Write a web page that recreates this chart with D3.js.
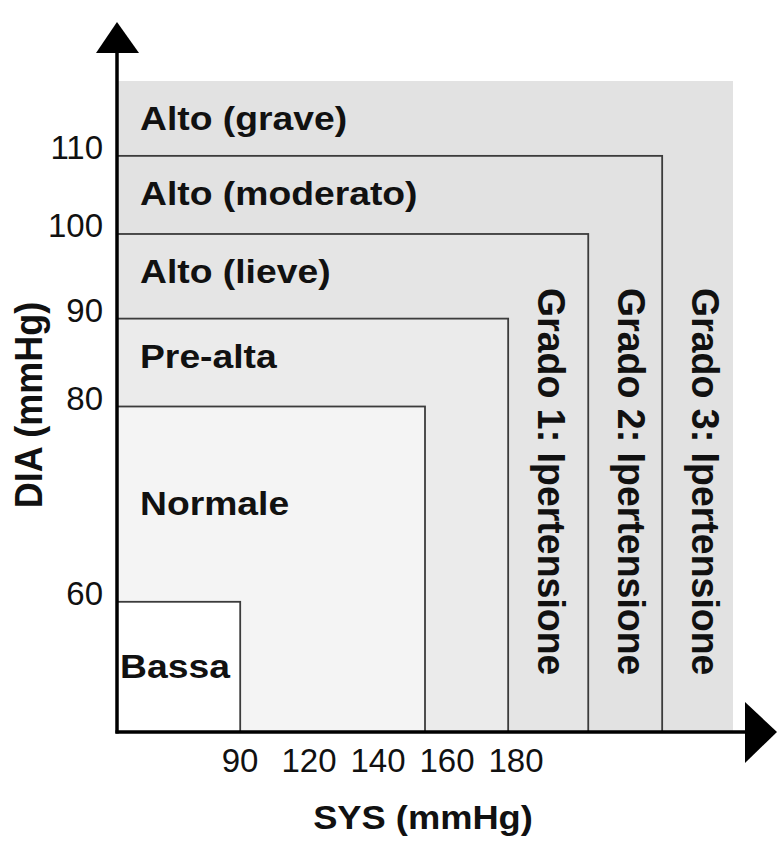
<!DOCTYPE html>
<html>
<head>
<meta charset="utf-8">
<script src="https://cdn.jsdelivr.net/npm/d3@7"></script>
<style>
  html, body { margin: 0; padding: 0; background: #fff; }
  svg { display: block; font-family: "Liberation Sans", Arial, sans-serif; }
</style>
</head>
<body>
<div id="chart"></div>
<script>
// Categories, innermost first, with their upper limits (SYS / DIA, mmHg)
const CATEGORIES = ["Bassa", "Normale", "Pre-alta", "Alto (lieve)", "Alto (moderato)", "Alto (grave)"];
const SYS_UPPER = [90, 120, 140, 160, 180, 200];
const DIA_UPPER = [60, 80, 90, 100, 110, 120];
const SYS_TICKS = [90, 120, 140, 160, 180];
const DIA_TICKS = [60, 80, 90, 100, 110];
const GRADES = ["Grado 1: Ipertensione", "Grado 2: Ipertensione", "Grado 3: Ipertensione"];

// schematic (non linear) position of each limit, as fraction of the plot
const STOPS = [0, 0.2, 0.5, 0.635, 0.765, 0.885, 1];
const FILLS = ["#ffffff", "#f4f4f4", "#ebebeb", "#e5e5e5", "#e2e2e2", "#e2e2e2"];

const W = 781, H = 845;
const ox = 117, oy = 732, plotRight = 733, plotTop = 81;

const x = d3.scaleLinear()
    .domain([0, ...SYS_UPPER])
    .range(STOPS.map(f => ox + f * (plotRight - ox)));
const y = d3.scaleLinear()
    .domain([0, ...DIA_UPPER])
    .range(STOPS.map(f => oy - f * (oy - plotTop)));
const xTick = d3.scalePoint().domain(SYS_TICKS).range([240, 516]);

const svg = d3.select("#chart").append("svg")
    .attr("width", W).attr("height", H);

// nested boxes, outermost first
const idx = d3.range(CATEGORIES.length).reverse();
svg.selectAll("rect.zone")
    .data(idx)
    .join("rect")
    .attr("class", "zone")
    .attr("x", ox)
    .attr("y", i => y(DIA_UPPER[i]))
    .attr("width", i => x(SYS_UPPER[i]) - ox)
    .attr("height", i => oy - y(DIA_UPPER[i]))
    .attr("fill", i => FILLS[i])
    .attr("stroke", i => i === CATEGORIES.length - 1 ? "none" : "#3c3c3c")
    .attr("stroke-width", 1.8);

// category labels
svg.selectAll("text.cat")
    .data(d3.range(CATEGORIES.length))
    .join("text")
    .attr("class", "cat")
    .attr("font-size", 33)
    .attr("font-weight", "bold")
    .attr("fill", "#111")
    .attr("transform", i => {
        const lo = i === 0 ? 0 : DIA_UPPER[i - 1];
        const yTop = y(DIA_UPPER[i]), yBot = y(lo);
        const ty = (yBot - yTop) > 110 ? (yTop + yBot) / 2 + 11 : yTop + 49;
        const tx = (x(SYS_UPPER[i]) - ox) < 150 ? ox + 3 : ox + 23;
        return `translate(${tx},${ty}) scale(1.13,1)`;
    })
    .text(i => CATEGORIES[i]);

// vertical hypertension grade labels
svg.selectAll("text.grade")
    .data(GRADES)
    .join("text")
    .attr("class", "grade")
    .attr("font-size", 37.5)
    .attr("font-weight", "bold")
    .attr("fill", "#111")
    .attr("transform", (d, i) => `translate(${x(SYS_UPPER[i + 2]) + 30},288) rotate(90) scale(1,1.05)`)
    .text(d => d);

// axes
svg.append("line")
    .attr("x1", ox).attr("y1", 50).attr("x2", ox).attr("y2", oy + 1.5)
    .attr("stroke", "#000").attr("stroke-width", 3.5);
svg.append("line")
    .attr("x1", ox - 1.5).attr("y1", oy).attr("x2", 748).attr("y2", oy)
    .attr("stroke", "#000").attr("stroke-width", 3.5);
svg.append("path")
    .attr("d", `M${ox},22 L${ox + 22},53 L${ox - 21},53 Z`)
    .attr("fill", "#000");
svg.append("path")
    .attr("d", `M777,${oy} L745,${oy - 30} L745,${oy + 31} Z`)
    .attr("fill", "#000");

// tick labels
svg.selectAll("text.xt")
    .data(SYS_TICKS)
    .join("text")
    .attr("class", "xt")
    .attr("x", d => xTick(d))
    .attr("y", 772)
    .attr("text-anchor", "middle")
    .attr("font-size", 33)
    .attr("fill", "#111")
    .text(d => d);

svg.selectAll("text.yt")
    .data(DIA_TICKS)
    .join("text")
    .attr("class", "yt")
    .attr("x", 103)
    .attr("y", d => y(d) + 3)
    .attr("text-anchor", "end")
    .attr("font-size", 33)
    .attr("fill", "#111")
    .text(d => d);

// axis titles
svg.append("text")
    .attr("transform", "translate(423,829) scale(1.1,1)")
    .attr("text-anchor", "middle")
    .attr("font-size", 33)
    .attr("font-weight", "bold")
    .attr("fill", "#111")
    .text("SYS (mmHg)");

svg.append("text")
    .attr("transform", "translate(42,405) rotate(-90) scale(1,1.1)")
    .attr("text-anchor", "middle")
    .attr("font-size", 36)
    .attr("font-weight", "bold")
    .attr("fill", "#111")
    .text("DIA (mmHg)");
</script>
</body>
</html>
